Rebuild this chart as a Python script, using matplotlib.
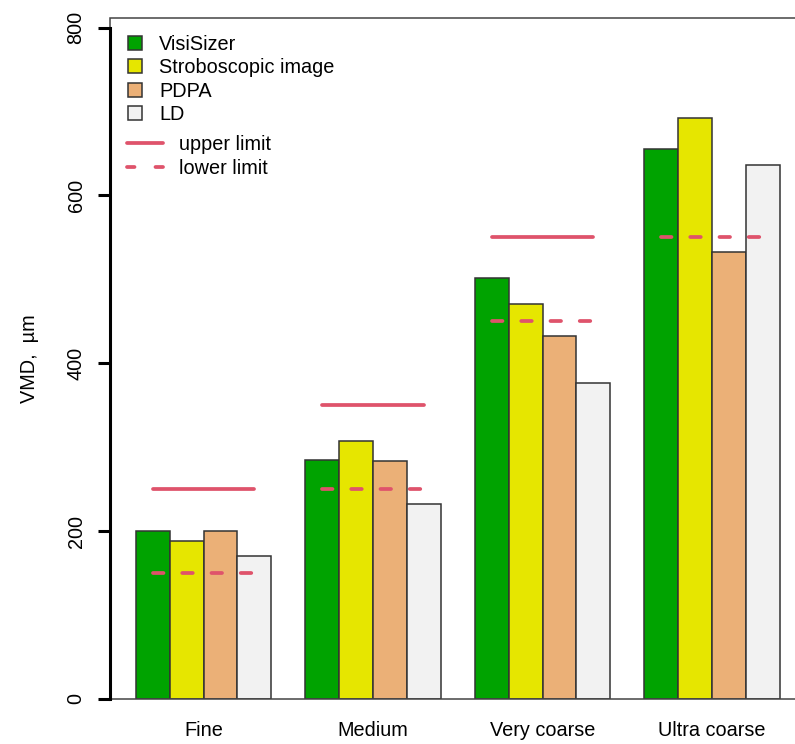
import matplotlib
matplotlib.use("Agg")
import matplotlib.pyplot as plt
from matplotlib.patches import Patch, Rectangle
from matplotlib.lines import Line2D
import numpy as np

plt.rcParams['font.family'] = ['Liberation Sans', 'DejaVu Sans']

# data
categories = ["Fine", "Medium", "Very coarse", "Ultra coarse"]
methods = ["VisiSizer", "Stroboscopic image", "PDPA", "LD"]
visisizer = [200, 285, 501, 655]
strobo = [188, 307, 471, 692]
pdpa = [200, 283, 432, 533]
ld = [170, 232, 376, 636]
upper_limit = [250, 350, 550, np.nan]   # no upper limit for ultra coarse
lower_limit = [150, 250, 450, 550]

colors = ["#00A300", "#E6E600", "#EBB077", "#F2F2F2"]
red = "#DF536B"
fs = 14.3

fig = plt.figure(figsize=(7.95, 7.44), dpi=100)
# axes runs off the right edge like the source image
ax = fig.add_axes([110 / 795, 45 / 744, 695.6 / 795, 680.7 / 744])

series = [visisizer, strobo, pdpa, ld]
n_grp = len(categories)
grp_start = 1 + 5 * np.arange(n_grp)    # R barplot: one bar gap between groups
for j, vals in enumerate(series):
    ax.bar(grp_start + j, vals, width=1, align='edge', color=colors[j],
           edgecolor='#333333', linewidth=1.1, zorder=2)

centers = grp_start + 2
for i in range(n_grp):
    if not np.isnan(upper_limit[i]):
        ax.plot([centers[i] - 1.5, centers[i] + 1.5], [upper_limit[i]] * 2,
                color=red, lw=2.7, solid_capstyle='round', zorder=3)
    ax.plot([centers[i] - 1.5, centers[i] + 1.5], [lower_limit[i]] * 2,
            color=red, lw=2.7, dashes=(2.8, 5.0), dash_capstyle='round', zorder=3)

ax.set_xlim(0.24, 20.76)
ax.set_ylim(0, 811)

for s in ax.spines.values():
    s.set_visible(False)
ax.spines['left'].set_visible(True)
ax.spines['left'].set_bounds(0, 800)
ax.spines['left'].set_linewidth(2.2)
ax.spines['left'].set_color('black')
ax.spines['left'].set_zorder(5)
ax.add_patch(Rectangle((0, 0), 1, 1, transform=ax.transAxes, fill=False,
                       edgecolor='#444444', linewidth=1.1, clip_on=False, zorder=4))

ax.set_yticks([0, 200, 400, 600, 800])
ax.tick_params(axis='y', length=8.6, width=2.2, pad=9, labelsize=fs, labelrotation=90)
for t in ax.get_yticklabels():
    t.set_va('center')
ax.set_xticks(centers)
ax.set_xticklabels(categories)
ax.tick_params(axis='x', length=0, pad=16, labelsize=fs)
ax.set_ylabel("VMD,  µm", fontsize=fs, labelpad=20)

h1 = [Patch(facecolor=colors[j], edgecolor='#333333', linewidth=1.1) for j in range(4)]
leg1 = ax.legend(h1, methods, loc='upper left', bbox_to_anchor=(0.0259, 0.976),
                 frameon=False, fontsize=fs, borderpad=0, borderaxespad=0,
                 handlelength=0.72, handleheight=0.72, handletextpad=0.85,
                 labelspacing=0.23)
ax.add_artist(leg1)
h2 = [Line2D([], [], color=red, lw=2.7, solid_capstyle='round'),
      Line2D([], [], color=red, lw=2.7, dashes=(2.0, 5.6), dash_capstyle='round')]
ax.legend(h2, ["upper limit", "lower limit"], loc='upper left',
          bbox_to_anchor=(0.0244, 0.828), frameon=False, fontsize=fs,
          borderpad=0, borderaxespad=0, handlelength=1.8, handletextpad=0.8,
          labelspacing=0.23)

fig.savefig("out.png", dpi=100)
